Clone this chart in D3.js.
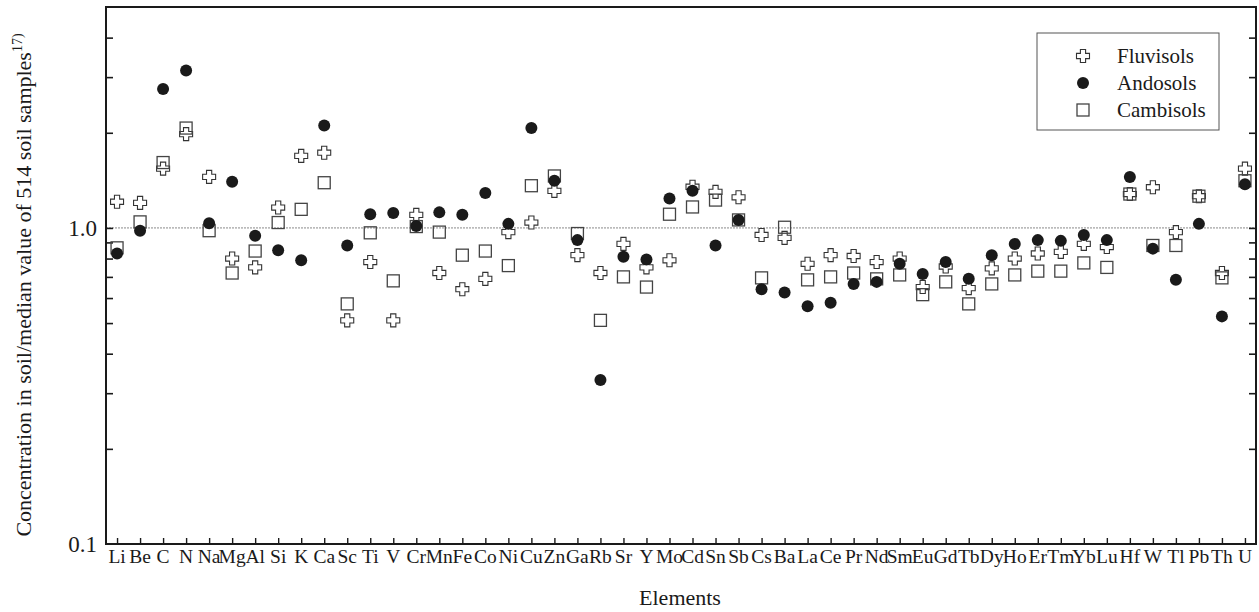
<!DOCTYPE html>
<html><head><meta charset="utf-8">
<script src="https://cdn.jsdelivr.net/npm/d3@7/dist/d3.min.js"></script>
<style>body{margin:0;background:#fff}svg{display:block}text{font-family:"Liberation Serif","DejaVu Serif",serif;fill:#1a1a1a}</style>
</head><body><svg id="c" width="1259" height="612"></svg>
<script>
const elements = ["Li","Be","C","N","Na","Mg","Al","Si","K","Ca","Sc","Ti","V","Cr","Mn","Fe","Co","Ni","Cu","Zn","Ga","Rb","Sr","Y","Mo","Cd","Sn","Sb","Cs","Ba","La","Ce","Pr","Nd","Sm","Eu","Gd","Tb","Dy","Ho","Er","Tm","Yb","Lu","Hf","W","Tl","Pb","Th","U"];
const fluvisols = [1.21,1.20,1.54,1.98,1.45,0.80,0.75,1.16,1.69,1.73,0.51,0.78,0.51,1.10,0.72,0.64,0.69,0.97,1.04,1.31,0.82,0.72,0.89,0.75,0.79,1.35,1.30,1.25,0.95,0.93,0.77,0.82,0.815,0.78,0.80,0.65,0.755,0.645,0.745,0.80,0.83,0.84,0.89,0.87,1.28,1.345,0.97,1.26,0.72,1.54];
const andosols = [0.83,0.98,2.75,3.15,1.035,1.40,0.945,0.85,0.79,2.11,0.88,1.105,1.115,1.015,1.12,1.10,1.29,1.03,2.07,1.41,0.915,0.33,0.81,0.795,1.24,1.31,0.88,1.06,0.64,0.625,0.565,0.58,0.665,0.675,0.77,0.715,0.78,0.69,0.82,0.89,0.915,0.91,0.95,0.915,1.45,0.86,0.685,1.03,0.525,1.375];
const cambisols = [0.865,1.045,1.61,2.07,0.98,0.72,0.845,1.04,1.145,1.39,0.575,0.965,0.68,1.01,0.97,0.82,0.845,0.76,1.36,1.46,0.96,0.51,0.70,0.65,1.105,1.165,1.225,1.06,0.695,1.005,0.685,0.70,0.72,0.69,0.71,0.615,0.675,0.575,0.665,0.71,0.73,0.73,0.775,0.75,1.28,0.88,0.88,1.26,0.695,1.41];
const yTickLabels = [0.1, 1.0];
const seriesNames = ["Fluvisols","Andosols","Cambisols"];

const svg = d3.select("#c");
const L = 106, R = 1256, T = 7, B = 544;
const x = d3.scalePoint().domain(elements).range([L, R]).padding(0.48);
const y = d3.scaleLog().domain([0.1, 5]).range([B, T]);

const ink = "#1a1a1a";
const crossPath = () => {
  const a = 2.6, b = 6.5;
  return `M${-a},${-b}H${a}V${-a}H${b}V${a}H${a}V${b}H${-a}V${a}H${-b}V${-a}H${-a}Z`;
};

// reference line at 1.0
svg.append("line").attr("x1", L).attr("x2", R).attr("y1", y(1)).attr("y2", y(1))
  .attr("stroke", "#8a8a8a").attr("stroke-width", 1).attr("stroke-dasharray", "2,1");

// frame
svg.append("rect").attr("x", L).attr("y", T).attr("width", R - L).attr("height", B - T)
  .attr("fill", "none").attr("stroke", ink).attr("stroke-width", 2);

// left/right axes (inward ticks)
const minorTicks = [0.2,0.3,0.4,0.5,0.6,0.7,0.8,0.9,1,2,3,4];
const leftAxis = d3.axisRight(y).tickValues(minorTicks).tickSize(7).tickFormat("");
svg.append("g").attr("transform", `translate(${L},0)`).call(leftAxis)
  .call(g => g.select(".domain").remove())
  .call(g => g.selectAll("line").attr("stroke", ink).attr("stroke-width", 1.6));
const rightAxis = d3.axisLeft(y).tickValues(minorTicks).tickSize(7).tickFormat("");
svg.append("g").attr("transform", `translate(${R},0)`).call(rightAxis)
  .call(g => g.select(".domain").remove())
  .call(g => g.selectAll("line").attr("stroke", ink).attr("stroke-width", 1.6));

// y labels
svg.append("g").selectAll("text").data(yTickLabels).join("text")
  .attr("x", L - 9).attr("y", d => y(d)).attr("dy", "0.35em")
  .attr("text-anchor", "end").attr("font-size", 23).text(d => d.toFixed(1));

// bottom axis
const bottomAxis = d3.axisTop(x).tickSize(6).tickFormat("");
svg.append("g").attr("transform", `translate(0,${B})`).call(bottomAxis)
  .call(g => g.select(".domain").remove())
  .call(g => g.selectAll("line").attr("stroke", ink).attr("stroke-width", 1.4));
svg.append("g").selectAll("text").data(elements).join("text")
  .attr("x", d => x(d)).attr("y", 563).attr("text-anchor", "middle")
  .attr("font-size", 19.5).text(d => d);

// titles
svg.append("text").attr("x", 680).attr("y", 605).attr("text-anchor", "middle")
  .attr("font-size", 22).text("Elements");
const yt = svg.append("text").attr("transform", "translate(31,285) rotate(-90)")
  .attr("text-anchor", "middle").attr("font-size", 22);
yt.append("tspan").text("Concentration in soil/median value of 514 soil samples");
yt.append("tspan").attr("font-size", 14).attr("dy", "-0.65em").text("17)");

// markers
const gF = svg.append("g");
gF.selectAll("path").data(elements).join("path")
  .attr("transform", (d, i) => `translate(${x(d)},${y(fluvisols[i])})`)
  .attr("d", crossPath()).attr("fill", "#fff").attr("stroke", "#333").attr("stroke-width", 1.1);
const gC = svg.append("g");
gC.selectAll("rect").data(elements).join("rect")
  .attr("x", d => x(d) - 6).attr("y", (d, i) => y(cambisols[i]) - 6)
  .attr("width", 12).attr("height", 12)
  .attr("fill", "none").attr("stroke", "#444").attr("stroke-width", 1.3);
const gA = svg.append("g");
gA.selectAll("circle").data(elements).join("circle")
  .attr("cx", d => x(d)).attr("cy", (d, i) => y(andosols[i])).attr("r", 6)
  .attr("fill", ink);

// legend
const lg = svg.append("g");
lg.append("rect").attr("x", 1037).attr("y", 33).attr("width", 182).attr("height", 97)
  .attr("fill", "#fff").attr("stroke", "#555").attr("stroke-width", 1);
const ly = [56, 83, 110];
lg.append("path").attr("transform", `translate(1083,${ly[0]})`).attr("d", crossPath())
  .attr("fill", "#fff").attr("stroke", "#333").attr("stroke-width", 1.1);
lg.append("circle").attr("cx", 1083).attr("cy", ly[1]).attr("r", 6).attr("fill", ink);
lg.append("rect").attr("x", 1077).attr("y", ly[2] - 6).attr("width", 12).attr("height", 12)
  .attr("fill", "none").attr("stroke", "#444").attr("stroke-width", 1.3);
lg.selectAll("text").data(seriesNames).join("text")
  .attr("x", 1117).attr("y", (d, i) => ly[i]).attr("dy", "0.35em")
  .attr("font-size", 21).text(d => d);
</script></body></html>
